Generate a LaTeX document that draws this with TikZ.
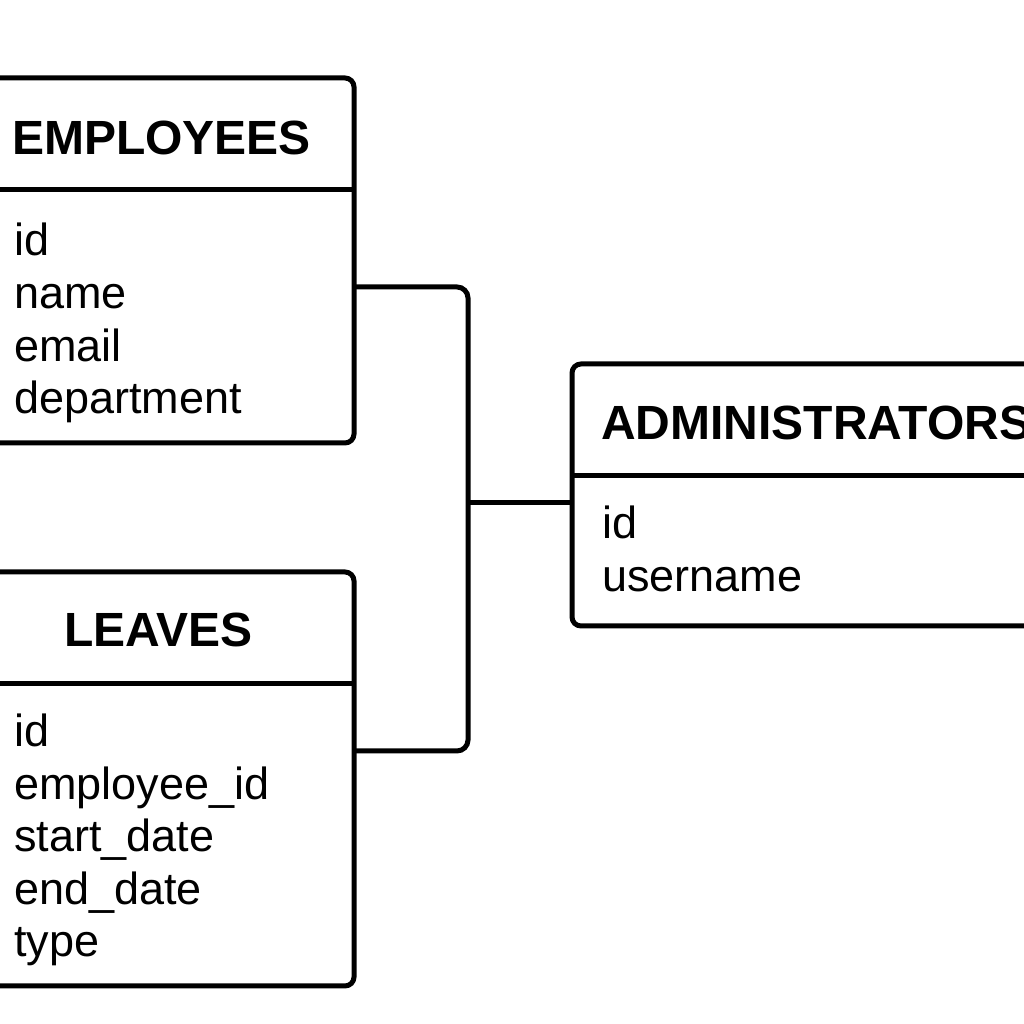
\documentclass[tikz,border=0pt]{standalone}
\usepackage{fontspec}
\setmainfont{Liberation Sans}
\begin{document}
\begin{tikzpicture}[x=1pt,y=1pt,
  tbl/.style={draw=black,line width=5pt,rounded corners=9pt,rectangle,inner sep=0pt,outer sep=0pt,fill=none},
  div/.style={draw=black,line width=5pt},
  conn/.style={draw=black,line width=5pt,rounded corners=11pt},
  hdr/.style={anchor=base west,inner sep=0pt,font=\fontsize{48}{56}\selectfont\bfseries},
  fld/.style={anchor=base west,inner sep=0pt,font=\fontsize{45}{52}\selectfont}]
\useasboundingbox (0,0) rectangle (1024,1024);
\clip (0,0) rectangle (1024,1024);
\fill[white] (0,0) rectangle (1024,1024);
% tables
\node[tbl,minimum width=394pt,minimum height=365pt] (emp) at (157,763.5) {};
\node[tbl,minimum width=394pt,minimum height=414pt] (lea) at (157,245) {};
\node[tbl,minimum width=498pt,minimum height=262pt] (adm) at (821,529) {};
% header dividers
\draw[div] (emp.west |- 0,834) -- (emp.east |- 0,834);
\draw[div] (lea.west |- 0,340) -- (lea.east |- 0,340);
\draw[div] (adm.west |- 0,548) -- (adm.east |- 0,548);
% headers
\node[hdr] (emph) at (12,869) {EMPLOYEES};
\node[hdr] (leah) at (64,377) {LEAVES};
\node[hdr] (admh) at (601,584) {ADMINISTRATORS};
% fields
\node[fld] (e1) at (14,768) {id};
\node[fld] (e2) at (14,715.3) {name};
\node[fld] (e3) at (14,662.6) {email};
\node[fld] (e4) at (14,610) {department};
\node[fld] (l1) at (14,277) {id};
\node[fld] (l2) at (14,224.5) {employee\_id};
\node[fld] (l3) at (14,172) {start\_date};
\node[fld] (l4) at (14,119.5) {end\_date};
\node[fld] (l5) at (14,67) {type};
\node[fld] (a1) at (602,485) {id};
\node[fld] (a2) at (602,432.5) {username};
% connectors
\coordinate (j) at (468,521);
\draw[conn] ([yshift=-26.5pt]emp.east) -| (j) |- ([yshift=28pt]lea.east);
\draw[conn] (j) -- (adm.west |- j);
\end{tikzpicture}
\end{document}
